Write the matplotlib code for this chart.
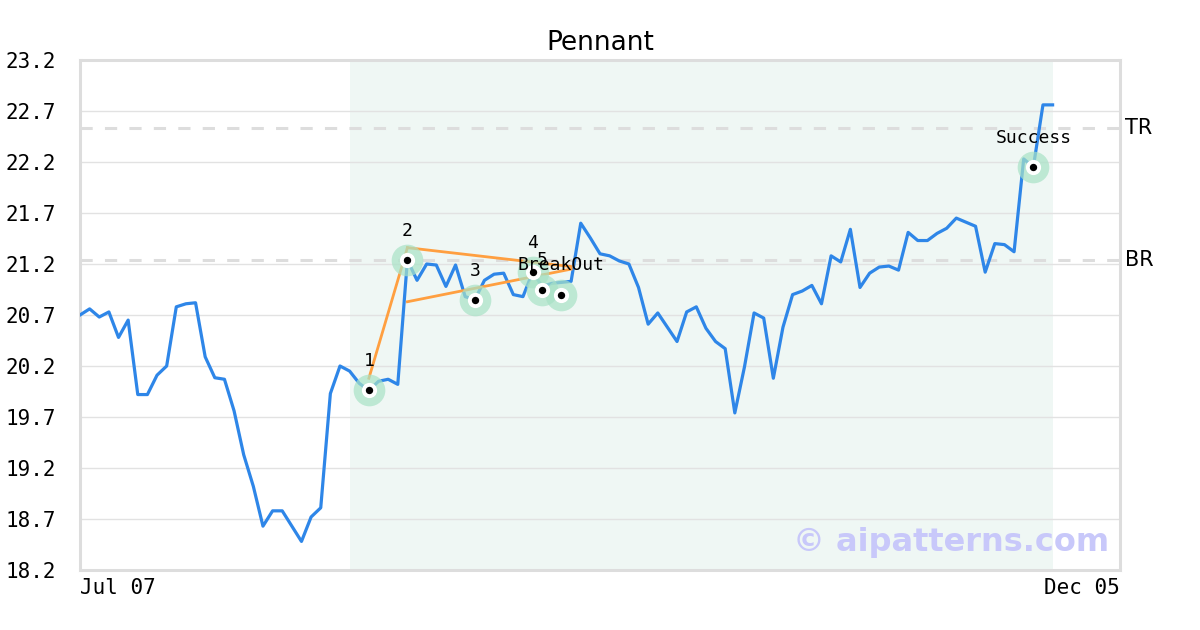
import numpy as np
import matplotlib.pyplot as plt

# closing prices, one per trading day from Jul 07 to Dec 05
prices = [20.70, 20.76, 20.68, 20.73, 20.48, 20.65, 19.92, 19.92, 20.11, 20.20,
          20.78, 20.81, 20.82, 20.29, 20.085, 20.07, 19.76, 19.33, 19.02, 18.63,
          18.78, 18.78, 18.63, 18.48, 18.72, 18.81, 19.93, 20.20, 20.15, 20.03,
          19.96, 20.05, 20.07, 20.02, 21.24, 21.04, 21.20, 21.19, 20.98, 21.19,
          20.88, 20.85, 21.04, 21.10, 21.11, 20.90, 20.88, 21.12, 20.98, 21.01,
          21.02, 21.03, 21.60, 21.455, 21.30, 21.28, 21.23, 21.20, 20.97, 20.61,
          20.72, 20.58, 20.44, 20.73, 20.78, 20.57, 20.44, 20.37, 19.74, 20.19,
          20.72, 20.67, 20.08, 20.58, 20.90, 20.935, 20.99, 20.81, 21.28, 21.22,
          21.54, 20.97, 21.11, 21.17, 21.18, 21.14, 21.51, 21.43, 21.43, 21.50,
          21.55, 21.65, 21.61, 21.57, 21.12, 21.40, 21.39, 21.32, 22.23, 22.15,
          22.76, 22.76]
x_labels = ["Jul 07", "Dec 05"]

# pattern points
pt_idx = [30, 34, 41, 47, 48, 50, 99]
pt_val = [19.96, 21.24, 20.85, 21.12, 20.95, 20.90, 22.15]
pt_lab = ["1", "2", "3", "4", "5", "BreakOut", "Success"]

# pennant lines
leg_x = [30, 34]
leg_y = [20.08, 21.36]
upper_x = [34, 51]
upper_y = [21.36, 21.175]
lower_x = [34, 51]
lower_y = [20.83, 21.15]

shade_start, shade_end = 28, 101
BR = 21.24
TR = 22.53
yticks = [18.2, 18.7, 19.2, 19.7, 20.2, 20.7, 21.2, 21.7, 22.2, 22.7, 23.2]

fig = plt.figure(figsize=(12, 6.3), dpi=100)
ax = fig.add_axes([80 / 1200, 60 / 630, 1040 / 1200, 510 / 630])

x = np.arange(len(prices))
xmax = 108

ax.axvspan(shade_start, shade_end, color='#eff7f4', zorder=0, lw=0)
ax.set_yticks(yticks)
ax.grid(axis='y', color='#e2e2e2', lw=1)
ax.set_axisbelow(True)

for lvl in [BR, TR]:
    ax.axhline(lvl, color='#dddddd', lw=2.2, dashes=(4, 4), zorder=1)
ax.text(xmax + 0.5, BR, "BR", fontsize=15, va='center', ha='left')
ax.text(xmax + 0.5, TR, "TR", fontsize=15, va='center', ha='left')

ax.plot(x, prices, color='#2e86e8', lw=2.3, zorder=3)

for xs, ys in [(leg_x, leg_y), (upper_x, upper_y), (lower_x, lower_y)]:
    ax.plot(xs, ys, color='#ff9f40', lw=2, zorder=4)

ax.scatter(pt_idx, pt_val, s=520, color='#a8e2c6', alpha=0.7, lw=0, zorder=5)
ax.scatter(pt_idx, pt_val, s=120, color='white', lw=0, zorder=6)
ax.scatter(pt_idx, pt_val, s=28, color='black', lw=0, zorder=7)
for i, v, lab in zip(pt_idx, pt_val, pt_lab):
    ax.annotate(lab, (i, v), xytext=(0, 21), textcoords='offset points',
                ha='center', va='center', fontsize=13, family='DejaVu Sans Mono', zorder=8)

ax.text(0.99, 0.053, "© aipatterns.com", transform=ax.transAxes, ha='right', va='center',
        fontsize=23, fontweight='bold', color='#c8c8fa', zorder=9)

ax.set_xlim(0, xmax)
ax.set_ylim(18.2, 23.2)
ax.set_xticks([0, xmax])
ax.set_xticklabels(x_labels, family='DejaVu Sans Mono', fontsize=15)
ax.get_xticklabels()[0].set_ha('left')
ax.get_xticklabels()[1].set_ha('right')
ax.set_yticklabels([f"{t:.1f}" for t in yticks], family='DejaVu Sans Mono', fontsize=15)
ax.tick_params(length=0, pad=6)
ax.tick_params(axis='y', pad=17)
for s in ax.spines.values():
    s.set_color('#dddddd')
    s.set_linewidth(2.2)

ax.set_title("Pennant", fontsize=19, pad=7)

fig.savefig("out.png", dpi=100)
